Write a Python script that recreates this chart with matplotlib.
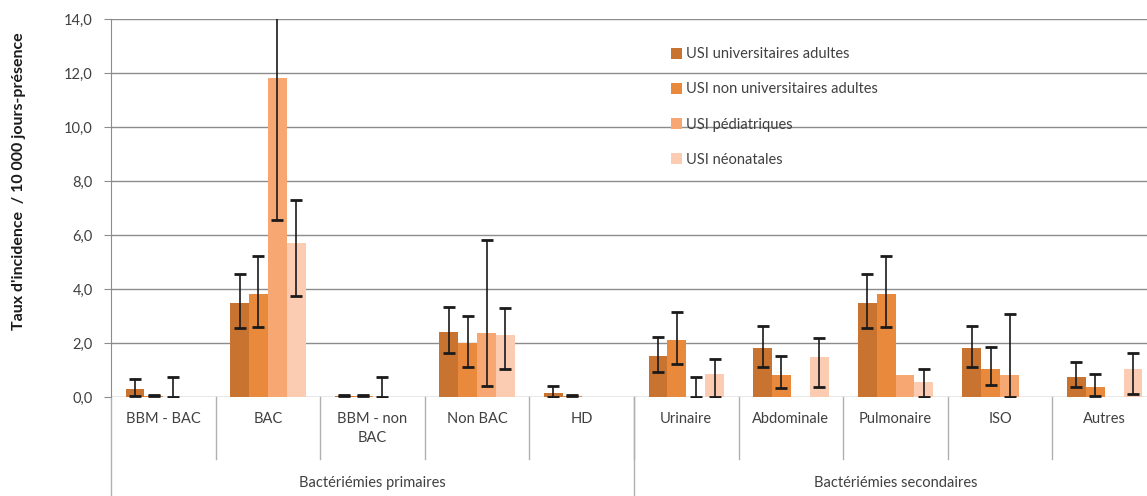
import numpy as np
import matplotlib
matplotlib.use("Agg")
from matplotlib import pyplot as plt
import matplotlib.transforms as mtransforms

plt.rcParams['font.family'] = ['Lato', 'DejaVu Sans']

categories = ["BBM - BAC", "BAC", "BBM - non\nBAC", "Non BAC", "HD",
              "Urinaire", "Abdominale", "Pulmonaire", "ISO", "Autres"]
groups = ["Bactériémies primaires", "Bactériémies secondaires"]
group_sizes = [5, 5]

series_names = ["USI universitaires adultes", "USI non universitaires adultes",
                "USI pédiatriques", "USI néonatales"]
nan = np.nan

# taux + bornes des intervalles de confiance
univ = [0.30, 3.47, 0.05, 2.42, 0.14, 1.53, 1.81, 3.47, 1.81, 0.75]
univ_lo = [0.05, 2.54, 0.02, 1.64, 0.01, 0.91, 1.12, 2.54, 1.12, 0.36]
univ_hi = [0.68, 4.56, 0.08, 3.35, 0.41, 2.23, 2.62, 4.56, 2.62, 1.28]

nonuniv = [0.05, 3.81, 0.05, 2.01, 0.05, 2.11, 0.80, 3.81, 1.04, 0.37]
nonuniv_lo = [0.02, 2.60, 0.02, 1.12, 0.02, 1.21, 0.32, 2.60, 0.46, 0.02]
nonuniv_hi = [0.08, 5.23, 0.08, 3.01, 0.08, 3.14, 1.51, 5.23, 1.86, 0.84]

pedia = [0.0, 11.8, 0.0, 2.36, nan, 0.0, nan, 0.80, 0.80, nan]
pedia_lo = [0.0, 6.55, 0.0, 0.41, nan, 0.0, nan, nan, 0.0, nan]
pedia_hi = [0.75, 16.5, 0.75, 5.81, nan, 0.75, nan, nan, 3.07, nan]

neonat = [nan, 5.69, nan, 2.28, nan, 0.85, 1.47, 0.57, nan, 1.04]
neonat_lo = [nan, 3.74, nan, 1.03, nan, 0.0, 0.38, 0.0, nan, 0.11]
neonat_hi = [nan, 7.30, nan, 3.28, nan, 1.42, 2.17, 1.04, nan, 1.64]

colors = ["#C8732F", "#E8893C", "#F7A872", "#FBCBB2"]

fig = plt.figure(figsize=(11.47, 4.96), dpi=100)
ax = fig.add_axes([111 / 1147, 99 / 496, 1046 / 1147, 378 / 496])

x = np.arange(len(categories)) + 0.5
w = 0.18
data = [(univ, univ_lo, univ_hi), (nonuniv, nonuniv_lo, nonuniv_hi),
        (pedia, pedia_lo, pedia_hi), (neonat, neonat_lo, neonat_hi)]

for k, (vals, lo, hi) in enumerate(data):
    vals = np.array(vals, dtype=float)
    lo = np.array(lo, dtype=float)
    hi = np.array(hi, dtype=float)
    pos = x + (k - 1.5) * w
    ax.bar(pos, np.nan_to_num(vals), width=w, color=colors[k], label=series_names[k], zorder=2)
    m = ~np.isnan(hi)
    ax.errorbar(pos[m], vals[m], yerr=[vals[m] - lo[m], hi[m] - vals[m]], fmt='none',
                ecolor='#1a1a1a', elinewidth=1.2, capsize=4, capthick=2, zorder=3)

ax.set_xlim(0, len(categories))
ax.set_ylim(0, 14)
ax.set_yticks(np.arange(0, 14.1, 2))
ax.set_yticklabels([f"{v:.1f}".replace('.', ',') for v in np.arange(0, 14.1, 2)],
                   fontsize=10.5, color='#404040')
ax.yaxis.grid(True, color='#8c8c8c', linewidth=1)
ax.set_axisbelow(True)
ax.tick_params(axis='y', length=5, color='#8c8c8c', pad=8)
ax.set_xticks([])
for s in ['top', 'right', 'bottom']:
    ax.spines[s].set_visible(False)
ax.spines['left'].set_color('#8c8c8c')

ax.set_ylabel("Taux d'incidence  / 10 000 jours-présence", fontsize=11.5,
              fontweight='bold', color='#1a1a1a')
ax.yaxis.set_label_coords(-0.081, 0.571)

# axe des catégories à deux niveaux
trans = mtransforms.blended_transform_factory(ax.transData, ax.transAxes)
for i in range(1, len(categories)):
    ax.plot([i, i], [0, -0.165], transform=trans, color='#b0b0b0', lw=1, clip_on=False)
for i, lab in enumerate(categories):
    ax.text(i + 0.5, -0.04, lab, transform=trans, ha='center', va='top',
            fontsize=10.5, color='#404040', linespacing=1.4)
start = 0
for g, n in zip(groups, group_sizes):
    ax.plot([start, start], [0, -0.3], transform=trans, color='#b0b0b0', lw=1, clip_on=False)
    ax.text(start + n / 2, -0.228, g, transform=trans, ha='center', va='center',
            fontsize=10.5, color='#404040')
    start += n

ax.legend(loc='upper left', bbox_to_anchor=(0.535, 0.925), frameon=False,
          borderaxespad=0, borderpad=0, fontsize=10.5, labelspacing=1.45,
          handlelength=0.75, handleheight=0.75, handletextpad=0.3,
          labelcolor='#404040')

fig.savefig("out.png", dpi=100)
